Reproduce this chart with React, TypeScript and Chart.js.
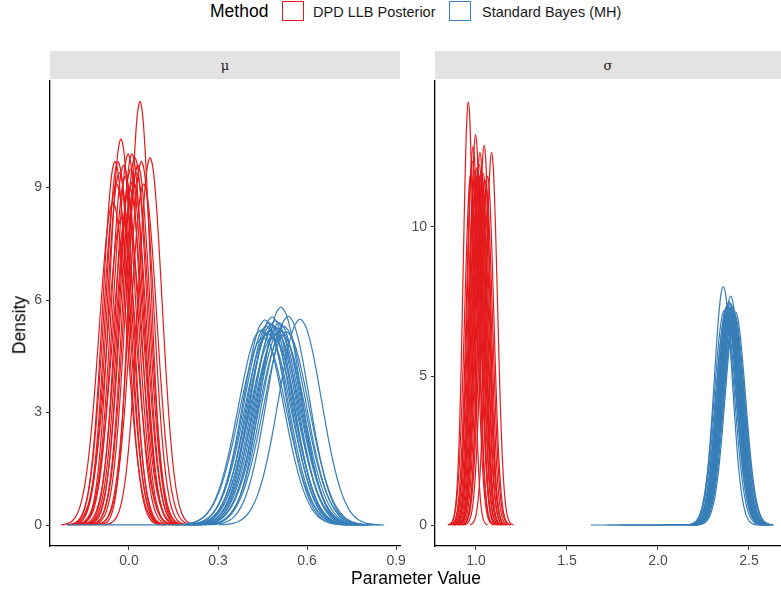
import React, { useEffect, useRef } from "react";
import { Chart, registerables } from "chart.js";
Chart.register(...registerables);

const RED = "#E41A1C";
const BLUE = "#377EB8";
const FONT = "'Liberation Sans', Arial, sans-serif";

// Normalised density profile (z in sd units, relative height)
const PROFILE_Z = [-3.75, -3.5, -3.25, -3, -2.75, -2.5, -2.25, -2, -1.75, -1.5, -1.25, -1, -0.75, -0.5, -0.25, 0,
  0.25, 0.5, 0.75, 1, 1.25, 1.5, 1.75, 2, 2.25, 2.5, 2.75, 3, 3.25, 3.5, 3.75];
const PROFILE_H = [0.0009, 0.0022, 0.0051, 0.0111, 0.0228, 0.0439, 0.0796, 0.1353, 0.2163, 0.3247, 0.4578, 0.6065, 0.7548, 0.8825, 0.9692, 1,
  0.9692, 0.8825, 0.7548, 0.6065, 0.4578, 0.3247, 0.2163, 0.1353, 0.0796, 0.0439, 0.0228, 0.0111, 0.0051, 0.0022, 0.0009];

// mu panel
const MU_RED_CENTERS = [-0.054, -0.047, -0.042, -0.037, -0.032, -0.027, -0.024, -0.018, -0.012, -0.007, -0.003, 0.002, 0.006, 0.010, 0.014, 0.020, 0.025, 0.030, 0.037, 0.042, 0.050, 0.071];
const MU_RED_PEAKS = [8.6, 9.7, 9.1, 9.7, 9.4, 10.3, 8.2, 9.6, 9.3, 8.3, 9.9, 9.0, 9.5, 9.9, 9.2, 9.8, 9.4, 9.6, 11.3, 9.7, 9.1, 9.8];
const MU_BLUE_CENTERS = [0.445, 0.452, 0.458, 0.462, 0.468, 0.472, 0.476, 0.480, 0.482, 0.486, 0.490, 0.494, 0.498, 0.502, 0.506, 0.510, 0.512, 0.516, 0.522, 0.530, 0.536, 0.576];
const MU_BLUE_PEAKS = [5.2, 5.0, 5.47, 5.3, 5.1, 5.4, 5.2, 5.35, 5.55, 5.0, 5.3, 5.45, 5.1, 5.25, 5.4, 5.2, 5.81, 5.05, 5.3, 5.15, 5.57, 5.49];
const MU_BLUE_TAIL_LO = [-0.21];
const MU_BLUE_TAIL_HI = [0.86];
const MU_X_TICKS = [0.0, 0.3, 0.6, 0.9];
const MU_Y_TICKS = [0, 3, 6, 9];

// sigma panel
const SIG_RED_CENTERS = [0.958, 0.972, 0.980, 0.984, 0.990, 0.995, 0.998, 1.002, 1.006, 1.010, 1.014, 1.018, 1.022, 1.026, 1.030, 1.035, 1.040, 1.045, 1.049, 1.056, 1.064, 1.086];
const SIG_RED_PEAKS = [14.2, 11.8, 12.2, 12.7, 11.5, 11.9, 13.1, 11.7, 12.0, 11.4, 11.8, 12.1, 12.5, 11.6, 11.9, 11.5, 11.8, 12.75, 11.6, 11.3, 11.7, 12.5];
const SIG_BLUE_CENTERS = [2.359, 2.365, 2.372, 2.376, 2.380, 2.383, 2.386, 2.388, 2.390, 2.392, 2.394, 2.396, 2.398, 2.400, 2.402, 2.404, 2.407, 2.410, 2.413, 2.416, 2.420, 2.425];
const SIG_BLUE_PEAKS = [8.0, 7.2, 7.0, 7.3, 7.1, 7.4, 6.9, 7.25, 7.5, 7.0, 7.3, 7.1, 7.45, 7.68, 7.2, 7.0, 7.35, 7.1, 7.2, 6.9, 7.05, 7.15];
const SIG_BLUE_TAIL_LO = [1.63, 1.72, 1.80];
const SIG_BLUE_TAIL_HI = [2.6, 2.61];
const SIG_X_TICKS = [1.0, 1.5, 2.0, 2.5];
const SIG_Y_TICKS = [0, 5, 10];

const SQRT_2PI = 2.5066;

function curves(centers: number[], peaks: number[], color: string, tailLo: number[] = [], tailHi: number[] = []) {
  return centers.map((c, i) => {
    const p = peaks[i];
    const sd = 1 / (p * SQRT_2PI);
    const pts = PROFILE_Z.map((z, k) => ({ x: c + z * sd, y: p * PROFILE_H[k] }));
    if (i < tailLo.length) pts.unshift({ x: tailLo[i], y: 0.005 });
    if (i < tailHi.length) pts.push({ x: tailHi[i], y: 0.0 });
    return {
      data: pts,
      borderColor: color,
      borderWidth: 1.2,
      pointRadius: 0,
      fill: false,
      tension: 0.3,
    };
  });
}

type PanelProps = {
  left: number; width: number; padRight: number;
  xMin: number; xMax: number; yMin: number; yMax: number;
  xTicks: number[]; yTicks: number[]; datasets: any[];
};

function Panel(props: PanelProps) {
  const ref = useRef<HTMLCanvasElement>(null);
  useEffect(() => {
    const tickFont = { family: FONT, size: 14 };
    const chart = new Chart(ref.current!, {
      type: "line",
      data: { datasets: props.datasets },
      options: {
        animation: false,
        responsive: false,
        maintainAspectRatio: false,
        plugins: { legend: { display: false }, tooltip: { enabled: false } },
        layout: { padding: { left: 0, right: props.padRight, top: 0, bottom: 0 } },
        scales: {
          x: {
            type: "linear",
            min: props.xMin,
            max: props.xMax,
            afterBuildTicks: (s: any) => { s.ticks = props.xTicks.map((v) => ({ value: v })); },
            afterFit: (s: any) => { s.height = 48; s.paddingLeft = 0; s.paddingRight = 0; },
            ticks: { color: "#4D4D4D", font: tickFont, padding: 3, maxRotation: 0, autoSkip: false, callback: (v: any) => Number(v).toFixed(1) },
            grid: { drawOnChartArea: false, drawTicks: true, tickLength: 4, color: "#333333", lineWidth: 1 },
            border: { display: true, color: "#000000", width: 1.3 },
          },
          y: {
            type: "linear",
            min: props.yMin,
            max: props.yMax,
            afterBuildTicks: (s: any) => { s.ticks = props.yTicks.map((v) => ({ value: v })); },
            afterFit: (s: any) => { s.width = 50; s.paddingTop = 0; s.paddingBottom = 0; },
            ticks: { color: "#4D4D4D", font: tickFont, padding: 4, autoSkip: false, callback: (v: any) => String(v) },
            grid: { drawOnChartArea: false, drawTicks: true, tickLength: 4, color: "#333333", lineWidth: 1 },
            border: { display: true, color: "#000000", width: 1.3 },
          },
        },
      },
    } as any);
    return () => chart.destroy();
  }, []);
  return (
    <canvas
      ref={ref}
      width={props.width}
      height={514}
      style={{ position: "absolute", left: props.left, top: 80, width: props.width, height: 514 }}
    />
  );
}

export default function App() {
  const muSets = [
    ...curves(MU_BLUE_CENTERS, MU_BLUE_PEAKS, BLUE, MU_BLUE_TAIL_LO, MU_BLUE_TAIL_HI),
    ...curves(MU_RED_CENTERS, MU_RED_PEAKS, RED),
  ];
  const sigSets = [
    ...curves(SIG_BLUE_CENTERS, SIG_BLUE_PEAKS, BLUE, SIG_BLUE_TAIL_LO, SIG_BLUE_TAIL_HI),
    ...curves(SIG_RED_CENTERS, SIG_RED_PEAKS, RED),
  ];
  const text: React.CSSProperties = { position: "absolute", fontFamily: FONT, whiteSpace: "nowrap", lineHeight: 1 };
  return (
    <div style={{ position: "fixed", left: 0, top: 0, width: 781, height: 594, background: "#FFFFFF", overflow: "hidden" }}>
      {/* legend */}
      <div style={{ ...text, left: 210, top: 3, fontSize: 17.5, color: "#000" }}>Method</div>
      <div style={{ position: "absolute", left: 282, top: 1, width: 22, height: 20, boxSizing: "border-box", border: `1.3px solid ${RED}` }} />
      <div style={{ ...text, left: 313, top: 5, fontSize: 14.5, color: "#1A1A1A" }}>DPD LLB Posterior</div>
      <div style={{ position: "absolute", left: 449, top: 1, width: 22, height: 20, boxSizing: "border-box", border: `1.3px solid ${BLUE}` }} />
      <div style={{ ...text, left: 482, top: 5, fontSize: 14.5, color: "#1A1A1A" }}>Standard Bayes (MH)</div>

      {/* strips */}
      <div style={{ position: "absolute", left: 50, top: 51, width: 350, height: 28, background: "#E3E3E3", display: "flex", alignItems: "center", justifyContent: "center", fontFamily: "'DejaVu Serif', serif", fontSize: 13, color: "#1A1A1A" }}>μ</div>
      <div style={{ position: "absolute", left: 435, top: 51, width: 346, height: 28, background: "#E3E3E3", display: "flex", alignItems: "center", justifyContent: "center", fontFamily: "'DejaVu Serif', serif", fontSize: 13, color: "#1A1A1A" }}>σ</div>

      <Panel left={0} width={410} padRight={10} xMin={-0.266} xMax={0.913} yMin={-0.56} yMax={11.87}
        xTicks={MU_X_TICKS} yTicks={MU_Y_TICKS} datasets={muSets} />
      <Panel left={385} width={396} padRight={0} xMin={0.775} xMax={2.676} yMin={-0.70} yMax={14.93}
        xTicks={SIG_X_TICKS} yTicks={SIG_Y_TICKS} datasets={sigSets} />

      {/* axis titles */}
      <div style={{ ...text, left: 416, top: 570, fontSize: 17.5, color: "#000", transform: "translateX(-50%)" }}>Parameter Value</div>
      <div style={{ ...text, left: 20, top: 325, fontSize: 17.5, color: "#000", transform: "translate(-50%, -50%) rotate(-90deg)" }}>Density</div>
    </div>
  );
}
